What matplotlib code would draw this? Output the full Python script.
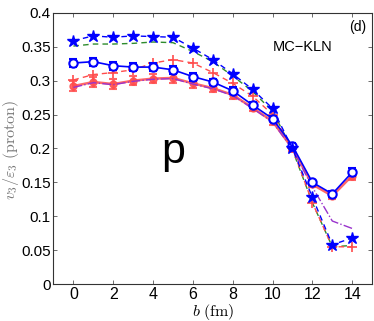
import matplotlib
matplotlib.use("Agg")
import matplotlib.pyplot as plt
import numpy as np

plt.rcParams['font.family'] = ['Liberation Sans', 'DejaVu Sans']
plt.rcParams['mathtext.fontset'] = 'cm'

b = [0, 1, 2, 3, 4, 5, 6, 7, 8, 9, 10, 11, 12, 13, 14]

stars_blue = [0.359, 0.366, 0.364, 0.366, 0.365, 0.364, 0.348, 0.331, 0.310, 0.287, 0.259, 0.200, 0.128, 0.058, 0.068]
green_dash = [0.351, 0.354, 0.354, 0.355, 0.357, 0.356, 0.343, 0.328, 0.307, 0.284, 0.255, 0.198, 0.120, 0.055, 0.057]
red_plus = [0.301, 0.309, 0.312, 0.316, 0.326, 0.331, 0.326, 0.312, 0.296, 0.277, 0.250, 0.200, 0.120, 0.055, 0.055]
blue_circ = [0.326, 0.328, 0.322, 0.320, 0.320, 0.316, 0.306, 0.298, 0.285, 0.264, 0.244, 0.204, 0.150, 0.133, 0.165]
blue_err = [0.006, 0.006, 0.006, 0.006, 0.006, 0.006, 0.006, 0.005, 0.005, 0.005, 0.004, 0.004, 0.004, 0.004, 0.006]
red_circ = [0.292, 0.298, 0.295, 0.300, 0.303, 0.304, 0.296, 0.289, 0.279, 0.260, 0.240, 0.200, 0.147, 0.130, 0.160]
red_err = [0.007, 0.007, 0.007, 0.007, 0.007, 0.007, 0.007, 0.006, 0.006, 0.005, 0.005, 0.004, 0.004, 0.004, 0.006]
purple_dd = [0.290, 0.297, 0.294, 0.299, 0.302, 0.303, 0.295, 0.288, 0.278, 0.259, 0.239, 0.199, 0.143, 0.093, 0.082]

xticks = [0, 2, 4, 6, 8, 10, 12, 14]
yticks = [0, 0.05, 0.1, 0.15, 0.2, 0.25, 0.3, 0.35, 0.4]
ytick_labels = ['0', '0.05', '0.1', '0.15', '0.2', '0.25', '0.3', '0.35', '0.4']

fig = plt.figure(figsize=(3.74, 3.21), dpi=100)
ax = fig.add_axes([0.143, 0.115, 0.852, 0.845])

red_c = '#ff4d4d'
ax.plot(b, green_dash, '--', color='#2e8b2e', lw=1.0, dashes=(4, 3), zorder=2)
ax.plot(b, red_plus, '--', color=red_c, lw=1.0, marker='+', ms=7, mew=1.2, dashes=(4, 3), zorder=3)
ax.errorbar(b, red_circ, yerr=red_err, color=red_c, lw=1.8, marker='o', ms=5,
            mfc=red_c, mec=red_c, capsize=3, elinewidth=1.8, capthick=1.5, alpha=0.85, zorder=4)
ax.plot(b, purple_dd, '-.', color='#9933cc', lw=1.0, zorder=5)
ax.errorbar(b, blue_circ, yerr=blue_err, color='#0000ff', lw=1.2, marker='o', ms=6,
            mfc='white', mec='#0000ff', mew=1.5, capsize=3, elinewidth=1.0, capthick=1.0, zorder=6)
ax.plot(b, stars_blue, '--', color='#0000ff', lw=1.0, marker='*', ms=9, dashes=(4, 3), zorder=7)

ax.set_xlim(-1, 15)
ax.set_ylim(0, 0.4)
ax.set_xticks(xticks)
ax.set_xticklabels([str(t) for t in xticks])
ax.set_yticks(yticks)
ax.set_yticklabels(ytick_labels)
ax.tick_params(direction='in', length=3, width=0.6, labelsize=11, top=True, right=True,
               colors='#555555', labelcolor='black', pad=2)
ax.tick_params(axis='x', labelsize=11.5)
for s in ax.spines.values():
    s.set_linewidth(0.8)
    s.set_color('#333333')

ax.set_xlabel(r'$b\ (\mathrm{fm})$', fontsize=11.5, labelpad=0)
ax.set_ylabel(r'$v_3/\varepsilon_3\ (\mathrm{proton})$', fontsize=11.5, color='#777777')
ax.yaxis.set_label_coords(-0.103, 0.495)

ax.text(10.0, 0.350, 'MC\u2212KLN', fontsize=10.5, ha='left', va='center')
ax.text(14.25, 0.379, '(d)', fontsize=10, ha='center', va='center')
ax.text(5.0, 0.195, 'p', fontsize=31, ha='center', va='center')

fig.savefig('out.png', dpi=100)
